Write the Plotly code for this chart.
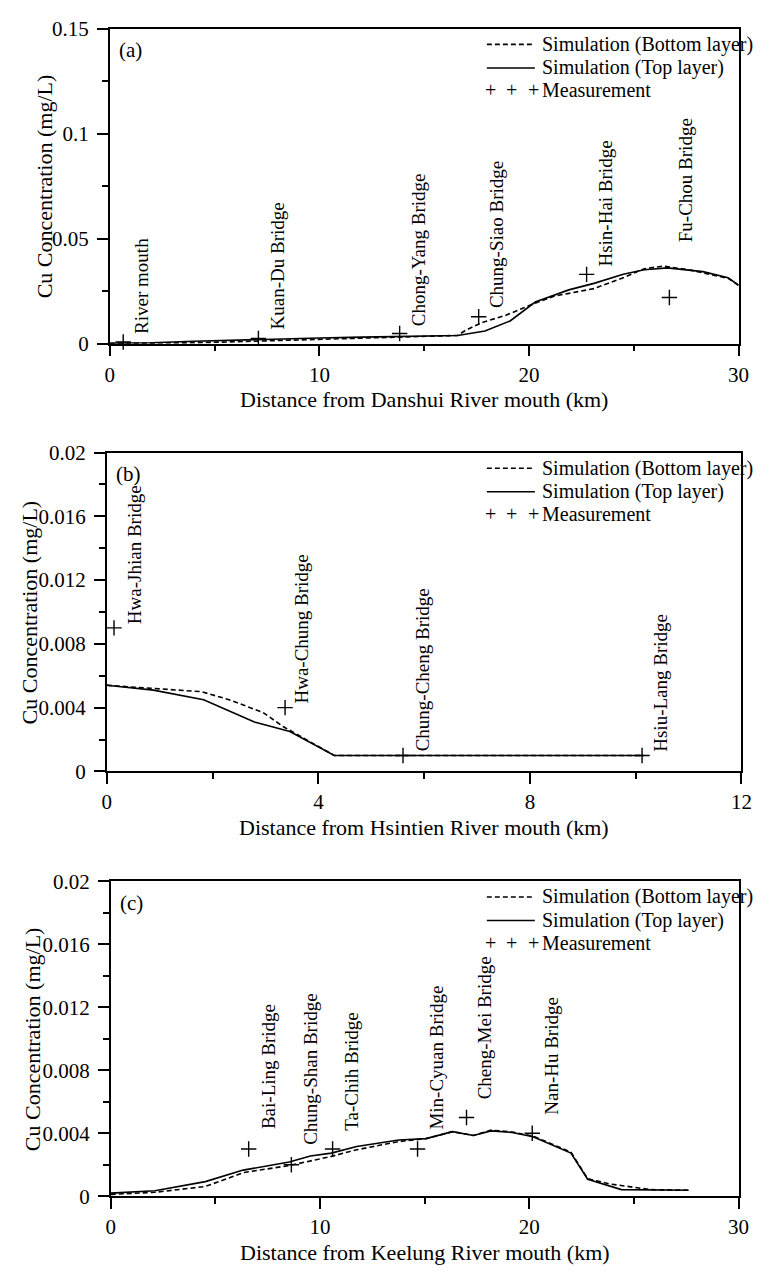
import plotly.graph_objects as go

W, H = 776, 1273
FONT = "Times New Roman, Liberation Serif, DejaVu Serif, serif"

# ---------------- Panel (a): Danshui River ----------------
a_top_x = [0, 2, 4, 6, 8, 10, 12, 14, 16.6, 17.9, 19.1, 20.3, 21.9, 23.1, 24.5, 25.5, 26.6, 28.3, 29.5, 30.0]
a_top_y = [0.0002, 0.0004, 0.0011, 0.0017, 0.0022, 0.0027, 0.0031, 0.0036, 0.0039, 0.0060, 0.0108,
           0.0198, 0.0256, 0.0287, 0.0330, 0.0352, 0.0361, 0.0343, 0.0314, 0.0278]
a_bot_x = [0, 2, 4, 6, 8, 10, 12, 14, 16.6, 17.0, 17.8, 18.9, 20.1, 21.2, 23.1, 24.6, 25.5, 26.4, 27.6, 29.5, 30.0]
a_bot_y = [0.0001, 0.0002, 0.0004, 0.0009, 0.0015, 0.0019, 0.0025, 0.0031, 0.0039, 0.0065, 0.0102,
           0.0135, 0.0185, 0.0226, 0.0262, 0.0318, 0.0357, 0.0369, 0.0352, 0.0311, 0.0278]
a_meas_x = [0.64, 7.09, 13.83, 17.6, 22.75, 26.7]
a_meas_y = [0.0008, 0.0025, 0.0048, 0.0128, 0.0330, 0.0220]
a_sites = ["River mouth", "Kuan-Du Bridge", "Chong-Yang Bridge", "Chung-Siao Bridge",
           "Hsin-Hai Bridge", "Fu-Chou Bridge"]

# ---------------- Panel (b): Hsintien River ----------------
b_top_x = [0, 0.88, 1.83, 2.79, 3.46, 4.3, 10.15]
b_top_y = [0.0054, 0.0051, 0.0045, 0.0031, 0.0025, 0.0010, 0.0010]
b_bot_x = [0, 0.9, 1.79, 2.31, 2.95, 3.34, 3.5, 4.3, 10.15]
b_bot_y = [0.0054, 0.0052, 0.0050, 0.0045, 0.0037, 0.0028, 0.0025, 0.0010, 0.0010]
b_meas_x = [0.135, 3.37, 5.6, 10.12]
b_meas_y = [0.0090, 0.0040, 0.0010, 0.0010]
b_sites = ["Hwa-Jhian Bridge", "Hwa-Chung Bridge", "Chung-Cheng Bridge", "Hsiu-Lang Bridge"]

# ---------------- Panel (c): Keelung River ----------------
c_top_x = [0, 2.11, 4.52, 6.33, 8.53, 9.54, 10.54, 11.75, 13.76, 15.06, 16.33, 17.33, 18.17,
           19.18, 20.18, 21.99, 22.79, 24.4, 27.61]
c_top_y = [0.0002, 0.00035, 0.00093, 0.00166, 0.00218, 0.00256, 0.00274, 0.00316, 0.00357, 0.00366,
           0.0041, 0.00386, 0.00415, 0.00405, 0.00378, 0.00274, 0.00108, 0.00042, 0.00038]
c_bot_x = [0, 2.11, 4.52, 6.33, 8.53, 10.54, 11.75, 13.76, 15.06, 16.33, 17.33, 18.17, 19.18,
           20.18, 21.99, 22.79, 23.8, 25.8, 27.61]
c_bot_y = [0.00012, 0.00025, 0.00062, 0.0015, 0.00195, 0.00253, 0.00295, 0.00347, 0.00366, 0.0041,
           0.00386, 0.0042, 0.00408, 0.00382, 0.0028, 0.00112, 0.00079, 0.00042, 0.00038]
c_meas_x = [6.59, 8.63, 10.6, 14.66, 17.0, 20.14]
c_meas_y = [0.0030, 0.0020, 0.0030, 0.0030, 0.0050, 0.0040]
c_sites = ["Bai-Ling Bridge", "Chung-Shan Bridge", "Ta-Chih Bridge", "Min-Cyuan Bridge",
           "Cheng-Mei Bridge", "Nan-Hu Bridge"]

# label anchor points (bottom-centre of each rotated site label), in data units
a_lab_x = [1.51, 8.01, 14.7, 18.48, 23.66, 27.44]
a_lab_y = [0.0039, 0.0059, 0.0075, 0.0158, 0.0356, 0.0473]
b_lab_x = [0.52, 3.69, 5.97, 10.47]
b_lab_y = [0.0091, 0.0041, 0.00114, 0.00108]
c_lab_x = [7.53, 9.54, 11.5, 15.56, 17.87, 21.08]
c_lab_y = [0.00413, 0.00313, 0.00406, 0.00413, 0.00604, 0.00504]

panels = [
    dict(tag="(a)", xr=[0, 30], xd=10, xm=5, yr=[0, 0.15], yd=0.05, ym=0.025,
         box=(107, 749, 17, 338), xtitle="Distance from Danshui River mouth (km)", ytx=40,
         top=(a_top_x, a_top_y), bot=(a_bot_x, a_bot_y), meas=(a_meas_x, a_meas_y),
         sites=a_sites, lab=(a_lab_x, a_lab_y)),
    dict(tag="(b)", xr=[0, 12], xd=4, xm=2, yr=[0, 0.02], yd=0.004, ym=0.002,
         box=(104, 752, 449, 774), xtitle="Distance from Hsintien River mouth (km)", ytx=26,
         top=(b_top_x, b_top_y), bot=(b_bot_x, b_bot_y), meas=(b_meas_x, b_meas_y),
         sites=b_sites, lab=(b_lab_x, b_lab_y)),
    dict(tag="(c)", xr=[0, 30], xd=10, xm=5, yr=[0, 0.02], yd=0.004, ym=0.002,
         box=(108, 749, 886, 1207), xtitle="Distance from Keelung River mouth (km)", ytx=28,
         top=(c_top_x, c_top_y), bot=(c_bot_x, c_bot_y), meas=(c_meas_x, c_meas_y),
         sites=c_sites, lab=(c_lab_x, c_lab_y)),
]


def pxx(x):
    return x / W


def pyy(y):
    return 1 - y / H


fig = go.Figure()
annotations = []
shapes = []
layout = {}

for i, p in enumerate(panels):
    n = "" if i == 0 else str(i + 1)
    xa, ya = "x" + n, "y" + n
    l, r, t, b = p["box"]
    layout["xaxis" + n] = dict(
        domain=[pxx(l), pxx(r)], range=p["xr"], anchor=ya, tick0=0, dtick=p["xd"],
        showline=True, linecolor="black", linewidth=1.6, mirror=True,
        ticks="outside", ticklen=11, tickwidth=1.5, tickcolor="black",
        minor=dict(dtick=p["xm"], tick0=0, ticks="outside", ticklen=6, tickwidth=1.5,
                   tickcolor="black", showgrid=False),
        showgrid=False, zeroline=False, ticklabelstandoff=0,
        tickfont=dict(family=FONT, size=21, color="black"),
    )
    layout["yaxis" + n] = dict(
        domain=[pyy(b), pyy(t)], range=p["yr"], anchor=xa, tick0=0, dtick=p["yd"],
        showline=True, linecolor="black", linewidth=1.6, mirror=True,
        ticks="outside", ticklen=11, tickwidth=1.5, tickcolor="black",
        minor=dict(dtick=p["ym"], tick0=0, ticks="outside", ticklen=6, tickwidth=1.5,
                   tickcolor="black", showgrid=False),
        showgrid=False, zeroline=False, ticklabelstandoff=4,
        tickfont=dict(family=FONT, size=21, color="black"),
    )

    fig.add_trace(go.Scatter(x=p["bot"][0], y=p["bot"][1], mode="lines", xaxis=xa, yaxis=ya,
                             name="Simulation (Bottom layer)", showlegend=False,
                             line=dict(color="black", width=1.6, dash="5px,3px")))
    fig.add_trace(go.Scatter(x=p["top"][0], y=p["top"][1], mode="lines", xaxis=xa, yaxis=ya,
                             name="Simulation (Top layer)", showlegend=False,
                             line=dict(color="black", width=1.6)))
    fig.add_trace(go.Scatter(x=p["meas"][0], y=p["meas"][1], mode="markers", xaxis=xa, yaxis=ya,
                             name="Measurement", showlegend=False, cliponaxis=False,
                             marker=dict(symbol="cross-thin-open", size=11, color="black",
                                         line=dict(color="black", width=1.4))))

    # rotated site labels
    for s, lx, ly in zip(p["sites"], p["lab"][0], p["lab"][1]):
        annotations.append(dict(text=s, x=lx, y=ly, xref=xa, yref=ya, textangle=-90,
                                xanchor="center", yanchor="bottom", showarrow=False,
                                font=dict(family=FONT, size=19, color="black")))

    # panel tag
    annotations.append(dict(text=p["tag"], x=pxx(l + 7), y=pyy(t + 22), xref="paper", yref="paper",
                            xanchor="left", yanchor="middle", showarrow=False,
                            font=dict(family=FONT, size=21, color="black")))
    # axis titles
    annotations.append(dict(text=p["xtitle"], x=pxx((l + r) / 2), y=pyy(b + 57), xref="paper",
                            yref="paper", xanchor="center", yanchor="middle", showarrow=False,
                            font=dict(family=FONT, size=22, color="black")))
    annotations.append(dict(text="Cu Concentration (mg/L)", x=pxx(p["ytx"]), y=pyy((t + b) / 2),
                            xref="paper", yref="paper", textangle=-90, xanchor="center",
                            yanchor="middle", showarrow=False,
                            font=dict(family=FONT, size=22, color="black")))

    # hand-drawn legend (top right, inside the frame)
    lx0, lx1, tx = 492, 541, 546
    rows = [t + 16, t + 40, t + 63]
    shapes.append(dict(type="line", xref="paper", yref="paper", x0=pxx(lx0), x1=pxx(lx1),
                       y0=pyy(rows[0]), y1=pyy(rows[0]),
                       line=dict(color="black", width=1.6, dash="5px,3px")))
    shapes.append(dict(type="line", xref="paper", yref="paper", x0=pxx(lx0), x1=pxx(lx1),
                       y0=pyy(rows[1]), y1=pyy(rows[1]), line=dict(color="black", width=1.6)))
    for txt, ry in zip(["Simulation (Bottom layer)", "Simulation (Top layer)", "Measurement"], rows):
        annotations.append(dict(text=txt, x=pxx(tx), y=pyy(ry), xref="paper", yref="paper",
                                xanchor="left", yanchor="middle", showarrow=False,
                                font=dict(family=FONT, size=20, color="black")))
    for cx in (495.5, 517.5, 540):
        annotations.append(dict(text="+", x=pxx(cx), y=pyy(rows[2]), xref="paper", yref="paper",
                                xanchor="center", yanchor="middle", showarrow=False,
                                font=dict(family=FONT, size=20, color="black")))

fig.update_layout(
    width=W, height=H, margin=dict(l=0, r=0, t=0, b=0),
    paper_bgcolor="white", plot_bgcolor="white", showlegend=False,
    annotations=annotations, shapes=shapes,
    font=dict(family=FONT, color="black"),
    **layout,
)

fig.write_html("out.html")
